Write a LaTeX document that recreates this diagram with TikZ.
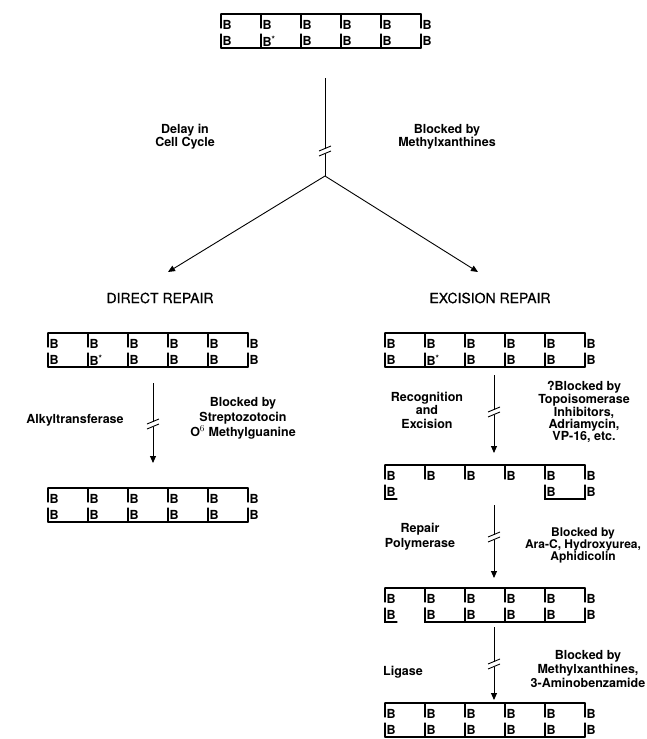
\documentclass[tikz,border=0pt]{standalone}
\usepackage{fontspec}
\setmainfont{TeX Gyre Heros}
\newfontfamily\headfont[FakeBold=0.5]{TeX Gyre Heros}
\usetikzlibrary{arrows.meta,positioning,calc}

\newcommand{\dnatop}[3]{%
  \draw[strand] (#2,#3) -- ++(200,0);
  \foreach \k in {0,...,5}{
    \draw[strand] (#2+40*\k,#3) -- ++(0,14);
    \node[base] (#1t\k) at (#2+40*\k+1.5,#3+11) {B};}}
\newcommand{\dnabot}[4]{%
  \draw[strand] (#2,#3+34) -- ++(200,0);
  \foreach \k in {0,...,5}{
    \draw[strand] (#2+40*\k,#3+34) -- ++(0,-14);
    \node[base] (#1b\k) at (#2+40*\k+1.5,#3+27) {B\ifnum\k=#4\textsuperscript{*}\fi};}}
\newcommand{\cutmark}[1]{%
  \draw[link] ([shift={(-6,-1)}]#1) -- ++(12,-5);
  \draw[link] ([shift={(-6,4)}]#1) -- ++(12,-5);}

\begin{document}
\begin{tikzpicture}[x=1pt,y=-1pt,
  strand/.style={line width=1.1pt,line cap=round},
  link/.style={line width=0.9pt},
  >={Triangle[length=7pt,width=6pt]},
  base/.style={anchor=west,inner sep=0pt,font=\bfseries\fontsize{12.5}{12.5}\selectfont},
  note/.style={align=center,inner sep=0pt,font=\bfseries\fontsize{12.5}{11.5}\selectfont},
  title/.style={inner sep=0pt,font=\headfont\fontsize{14}{14}\selectfont}]
\clip (0,0) rectangle (646,739);

\dnatop{dna0}{221}{14}
\dnabot{dna0}{221}{14}{1}

\coordinate (trunk) at (325,78);
\coordinate (brk0) at (325,152);
\coordinate (fork) at (325,176);
\coordinate (dtip) at (168,272);
\coordinate (etip) at (478,272);
\draw[link] (trunk) -- ([yshift=3.5pt]brk0);
\draw[link] ([yshift=-1.5pt]brk0) -- (fork);
\cutmark{brk0}
\draw[->,link] (fork) -- (dtip);
\draw[->,link] (fork) -- (etip);
\node[note] (delay) at (185,137) {Delay in\\Cell Cycle};
\node[note] (mx1) at (447,137) {Blocked by\\Methylxanthines};

\node[title] (direct) at (160,298) {DIRECT REPAIR};
\node[title] (excision) at (490,298) {EXCISION REPAIR};

\dnatop{dl1}{48}{333}
\dnabot{dl1}{48}{333}{1}
\coordinate (la) at (153,383);
\coordinate (lbrk) at (153,425);
\coordinate (lb) at (153,463);
\draw[link] (la) -- ([yshift=3.5pt]lbrk);
\draw[->,link] ([yshift=-1.5pt]lbrk) -- (lb);
\cutmark{lbrk}
\node[note] (alkyl) at (75,420) {Alkyltransferase};
\node[note,font=\bfseries\fontsize{12.5}{15}\selectfont] (strep) at (243,418) {Blocked by\\Streptozotocin\\O$^6$ Methylguanine};
\dnatop{dl2}{48}{488}
\dnabot{dl2}{48}{488}{9}

\dnatop{er1}{385}{333}
\dnabot{er1}{385}{333}{1}
\coordinate (ra) at (494,375);
\coordinate (rbrk1) at (494,413);
\coordinate (rb) at (494,453);
\draw[link] (ra) -- ([yshift=3.5pt]rbrk1);
\draw[->,link] ([yshift=-1.5pt]rbrk1) -- (rb);
\cutmark{rbrk1}
\node[note,font=\bfseries\fontsize{12.5}{13.5}\selectfont] (recog) at (427,410) {Recognition\\and\\Excision};
\node[note,font=\bfseries\fontsize{12.5}{12}\selectfont] (topo) at (584,412) {?Blocked by\\Topoisomerase\\Inhibitors,\\Adriamycin,\\VP-16, etc.};

\dnatop{er2}{385}{465}
\draw[strand] (385,485) |- (397,499);
\node[base] (er2b0) at (386.5,492) {B};
\draw[strand] (545,485) |- (585,499) -- (585,485);
\node[base] (er2b4) at (546.5,492) {B};
\node[base] (er2b5) at (586.5,492) {B};
\coordinate (rc) at (494,505);
\coordinate (rbrk2) at (494,538);
\coordinate (rd) at (494,578);
\draw[link] (rc) -- ([yshift=3.5pt]rbrk2);
\draw[->,link] ([yshift=-1.5pt]rbrk2) -- (rd);
\cutmark{rbrk2}
\node[note,font=\bfseries\fontsize{12.5}{15}\selectfont] (pol) at (420,537) {Repair\\Polymerase};
\node[note,font=\bfseries\fontsize{12}{12}\selectfont] (arac) at (583,545) {Blocked by\\Ara-C, Hydroxyurea,\\Aphidicolin};

\dnatop{er3}{385}{588}
\draw[strand] (385,608) |- (397,622);
\draw[strand] (425,608) |- (585,622) -- ++(0,-14);
\foreach \k in {0,...,5}{
  \ifnum\k>1 \draw[strand] (385+40*\k-40,622) -- ++(0,-14); \fi
  \node[base] (er3b\k) at (385+40*\k+1.5,615) {B};}
\coordinate (re) at (494,627);
\coordinate (rbrk3) at (494,665);
\coordinate (rf) at (494,700);
\draw[link] (re) -- ([yshift=3.5pt]rbrk3);
\draw[->,link] ([yshift=-1.5pt]rbrk3) -- (rf);
\cutmark{rbrk3}
\node[note] (ligase) at (403,672) {Ligase};
\node[note,font=\bfseries\fontsize{12.5}{14}\selectfont] (mx2) at (588,669) {Blocked by\\Methylxanthines,\\3-Aminobenzamide};

\dnatop{er4}{385}{703}
\dnabot{er4}{385}{703}{9}
\end{tikzpicture}
\end{document}
